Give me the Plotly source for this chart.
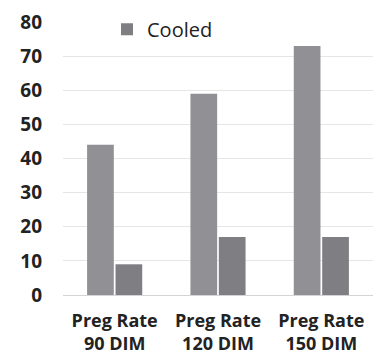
import plotly.graph_objects as go

categories = ["Preg Rate<br>90 DIM", "Preg Rate<br>120 DIM", "Preg Rate<br>150 DIM"]
baseline_values = [44, 59, 73]
cooled_values = [9, 17, 17]
y_ticks = [0, 10, 20, 30, 40, 50, 60, 70, 80]

FONT = "'Open Sans', sans-serif"
INK = "#222222"

fig = go.Figure()
fig.add_trace(go.Bar(
    x=categories, y=baseline_values, name="Baseline",
    marker=dict(color="#919195", line=dict(width=0)),
    showlegend=False,
))
fig.add_trace(go.Bar(
    x=categories, y=cooled_values, name="Cooled",
    marker=dict(color="#7f7f83", line=dict(width=0)),
))

fig.update_layout(
    width=383, height=357,
    margin=dict(l=63, r=10, t=14, b=62),
    paper_bgcolor="white", plot_bgcolor="white",
    barmode="group", bargap=0.45, bargroupgap=0.06,
    font=dict(family=FONT, color=INK),
    legend=dict(
        x=0.142, y=1.045, xanchor="left", yanchor="top",
        bgcolor="rgba(0,0,0,0)",
        font=dict(family=FONT, size=20, color=INK),
        itemwidth=30, tracegroupgap=0,
    ),
    xaxis=dict(
        showgrid=False, showline=False, zeroline=False, automargin=False,
        tickfont=dict(family=FONT, size=18, color=INK, weight="bold"),
        ticks="", ticklabelstandoff=13,
    ),
    yaxis=dict(
        range=[0, 80], tickvals=y_ticks, automargin=False,
        showgrid=True, gridcolor="#e6e6e6", gridwidth=1,
        zeroline=True, zerolinecolor="#d4d4d4", zerolinewidth=1,
        showline=False, ticks="",
        tickfont=dict(family=FONT, size=19, color=INK, weight="bold"),
        ticklabelstandoff=20,
    ),
)

fig.write_html("out.html")
